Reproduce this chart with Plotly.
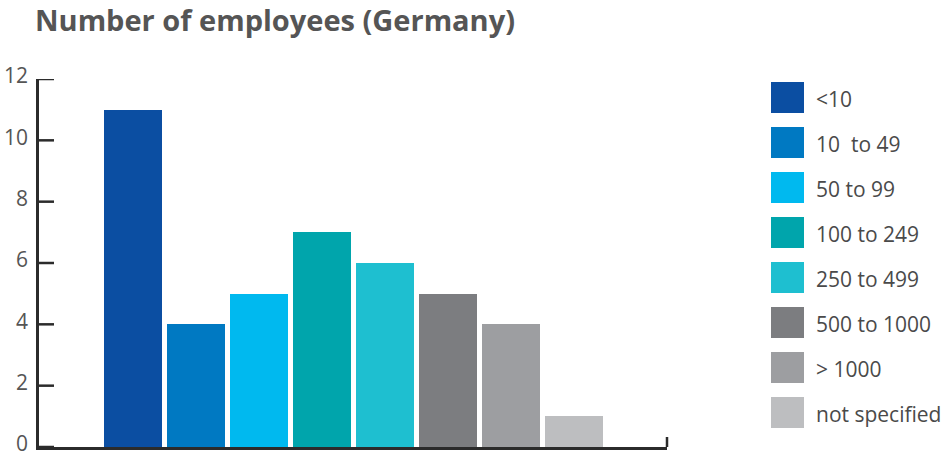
import plotly.graph_objects as go

categories = ["<10", "10  to 49", "50 to 99", "100 to 249", "250 to 499", "500 to 1000", "> 1000", "not specified"]
values = [11, 4, 5, 7, 6, 5, 4, 1]
colors = ["#0B4EA2", "#0079C2", "#00B9EF", "#00A5AC", "#1EBFD0", "#7C7D80", "#9D9EA1", "#BDBEC0"]
y_ticks = [0, 2, 4, 6, 8, 10, 12]

W, H = 944, 459
L, R, T, B = 39, 667, 79, 447
AXIS = "#2b2b2b"

def px_x(x):
    return (x - L) / (R - L)

def px_y(y):
    return (B - y) / (B - T)

fig = go.Figure()
for i, (c, v, col) in enumerate(zip(categories, values, colors)):
    fig.add_trace(go.Bar(x=[i], y=[v], name=c, marker=dict(color=col, line=dict(width=0)),
                         width=58 / 63, showlegend=False))

shapes = []
annotations = []
# manual legend with large square swatches
for i, (c, col) in enumerate(zip(categories, colors)):
    cy = 97.5 + i * 45
    shapes.append(dict(type="rect", xref="paper", yref="paper",
                       x0=px_x(771), x1=px_x(804), y0=px_y(cy + 15.5), y1=px_y(cy - 15.5),
                       fillcolor=col, line=dict(width=0)))
    annotations.append(dict(xref="paper", yref="paper", x=px_x(814), y=px_y(cy + 1),
                            text=c, showarrow=False, xanchor="left", yanchor="middle",
                            font=dict(family="Open Sans", size=21, color="#4a4a4a")))

# inward y-axis ticks
for t in y_ticks:
    shapes.append(dict(type="line", xref="x domain", yref="y", x0=0, x1=15 / (R - L),
                       y0=t, y1=t, line=dict(color=AXIS, width=2.5)))

# end tick at right of x axis
shapes.append(dict(type="line", xref="x domain", yref="paper", x0=1, x1=1,
                   y0=0, y1=10 / (B - T), line=dict(color=AXIS, width=2.5)))

fig.update_layout(
    width=W, height=H,
    margin=dict(l=L, r=W - R, t=T, b=H - B, pad=0, autoexpand=False),
    paper_bgcolor="white", plot_bgcolor="white",
    title=dict(text="<b>Number of employees (Germany)</b>", x=35 / W, xanchor="left",
               y=1 - 21 / H, yanchor="middle",
               font=dict(family="Open Sans", size=29, color="#555555")),
    bargap=0,
    xaxis=dict(range=[-94 / 63, 534 / 63], showticklabels=False, ticks="", showgrid=False,
               zeroline=False, showline=True, linecolor=AXIS, linewidth=2.5,
               automargin=False, fixedrange=True),
    yaxis=dict(range=[0, 12], tickvals=y_ticks, ticks="", showgrid=False, zeroline=False,
               showline=True, linecolor=AXIS, linewidth=2.5, ticklabelstandoff=4,
               ticklabelshift=-3, automargin=False, fixedrange=True,
               tickfont=dict(family="Open Sans", size=21, color="#555555")),
    shapes=shapes, annotations=annotations,
    showlegend=False,
)

fig.write_html("out.html", config={"displayModeBar": False},
               post_script="document.body.style.margin='0';")
